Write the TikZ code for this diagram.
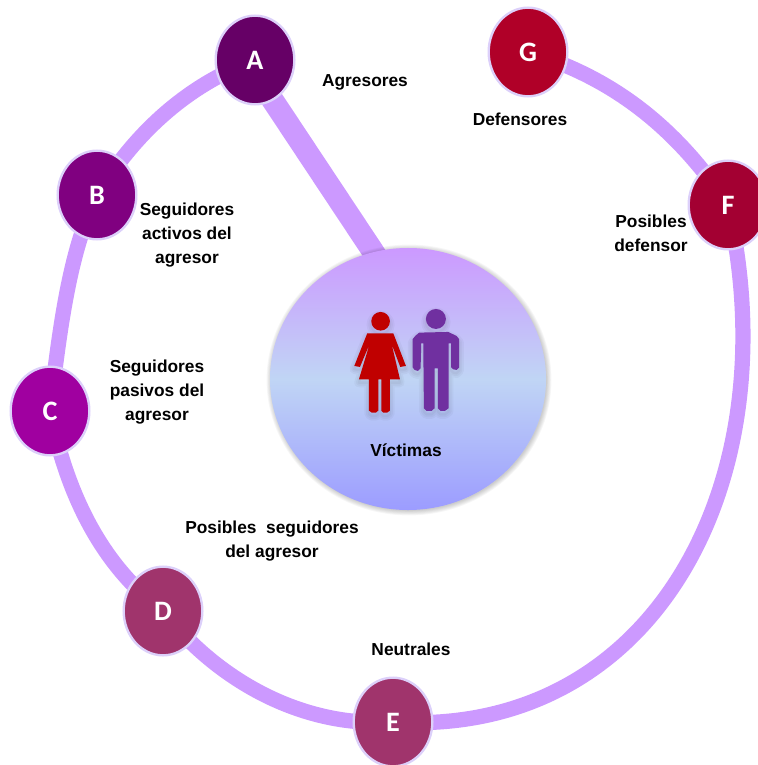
\documentclass[tikz,border=0pt]{standalone}
\usepackage{fontspec}
\setmainfont{Liberation Sans}
\newfontfamily\letterfont{Carlito}
\usetikzlibrary{shapes.geometric, backgrounds}

\definecolor{ringcol}{HTML}{CC99FF}
\definecolor{bordercol}{HTML}{DCD0FA}
\definecolor{midcol}{HTML}{C0D5F5}
\definecolor{lowcol}{HTML}{9C9CFF}
\definecolor{colA}{HTML}{660066}
\definecolor{colB}{HTML}{800080}
\definecolor{colC}{HTML}{A000A0}
\definecolor{colD}{HTML}{A0346C}
\definecolor{colF}{HTML}{A30032}
\definecolor{colG}{HTML}{B00028}
\definecolor{womancol}{HTML}{C00000}
\definecolor{mancol}{HTML}{7030A0}
\pgfdeclareverticalshading{victimshade}{100bp}{
  color(0bp)=(lowcol);
  color(25bp)=(lowcol);
  color(50bp)=(midcol);
  color(75bp)=(ringcol);
  color(100bp)=(ringcol)}

\tikzset{
  ring/.style={draw=ringcol, line width=13pt},
  person/.style={ellipse, draw=bordercol, line width=2pt, minimum width=2.36cm, minimum height=2.66cm,
                 inner sep=0pt, text=white, font=\letterfont\bfseries\fontsize{24}{24}\selectfont},
  label/.style={font=\bfseries\fontsize{14.8}{20.8}\selectfont, align=center, text=black}
}

\newcommand{\womanshape}{
  (322,280) -- (400,280) -- (438,378) -- (421,381) -- (395,312) -- (420,418) -- (390,418) -- (390,512) -- (382,518) -- (370,518) -- (364,512) -- (364,418) -- (355,418) -- (355,512) -- (348,518) -- (335,518) -- (327,512) -- (327,418) -- (297,418) -- (329,312) -- (300,381) -- (283,378) -- cycle
  (362,244) circle (28)}
\newcommand{\manshape}{
  (478,278) -- (565,276) -- (590,288) -- (598,298) -- (598,382) -- (590,390) -- (580,388) -- (574,382) -- (574,310) -- (566,310) -- (566,505) -- (555,513) -- (542,513) -- (534,505) -- (534,385) -- (524,385) -- (524,505) -- (515,513) -- (500,513) -- (492,505) -- (490,310) -- (484,310) -- (482,385) -- (474,393) -- (464,390) -- (458,382) -- (458,298) -- (466,288) -- cycle
  (528,237) circle (30)}

\begin{document}
\begin{tikzpicture}[x=0.03cm, y=-0.03cm]

    \useasboundingbox (0,0) rectangle (757,765);

    % 1. Circles on the ring
    \node[person, fill=colA] (A) at (255,60) {A};
    \node[person, fill=colB] (B) at (97,195) {B};
    \node[person, fill=colC] (C) at (50,411) {C};
    \node[person, fill=colD] (D) at (163,611) {D};
    \node[person, fill=colD] (E) at (393,722) {E};
    \node[person, fill=colF] (F) at (728,205) {F};
    \node[person, fill=colG] (G) at (528,52) {G};

    % 2. Central circle
    \node[ellipse, shading=victimshade, minimum width=8.28cm, minimum height=7.86cm, inner sep=0pt] (V) at (408,379) {};

    % 3. Ends of the spoke
    \coordinate (spoketop) at (246,60);
    \coordinate (spokeend) at (380,262);

    % 4. The ring and the spoke, behind everything
    \begin{scope}[on background layer]
        \draw[ring] (A.center) .. controls (195,82) and (140,125) .. (B.center);
        \draw[ring] (B.center) .. controls (70,250) and (60,325) .. (C.center);
        \draw[ring] (C.center) .. controls (68,500) and (105,568) .. (D.center);
        \draw[ring] (D.center) .. controls (215,678) and (300,728) .. (E.center);
        \draw[ring] (E.center) .. controls (655,738) and (790,480) .. (F.center);
        \draw[ring] (G.center) .. controls (615,78) and (678,130) .. (F.center);
        \draw[draw=ringcol, line width=19pt] (spoketop) -- (spokeend);

        % soft shadow round the central circle
        \foreach \w in {1,2,...,6}
            \fill[black, opacity=0.035] (409,380) ellipse ({137+\w*0.9} and {130+\w*0.9});
    \end{scope}

    % 5. The two figures
    \begin{scope}[shift={(260,240)}, x=0.01cm, y=-0.01cm]
        \foreach \w in {2,5,8}
            \draw[black, opacity=0.03, line width=\w pt, line join=round, yshift=-0.1cm] \womanshape \manshape;
        \fill[womancol] \womanshape;
        \fill[mancol] \manshape;
    \end{scope}

    % 6. Labels
    \node[label] (agr) at (365,82) {Agresores};
    \node[label] (def) at (520,119) {Defensores};
    \node[label] (act) at (187,235) {Seguidores\\activos del\\agresor};
    \node[label] (pas) at (157,392) {Seguidores\\pasivos del\\agresor};
    \node[label] (pos) at (272,541) {Posibles\ \ seguidores\\del agresor};
    \node[label] (neu) at (411,649) {Neutrales};
    \node[label] (pde) at (651,233) {Posibles\\defensor};
    \node[label] (vic) at (406,450) {Víctimas};

\end{tikzpicture}
\end{document}
